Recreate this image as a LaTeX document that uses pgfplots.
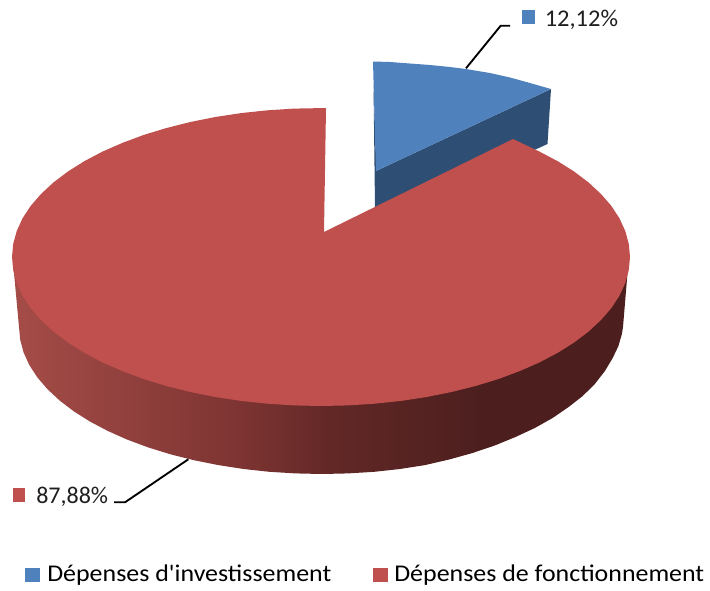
\documentclass[border=0pt]{standalone}
\usepackage{fontspec}
\setmainfont{Carlito}[Ligatures=TeXOff]
\usepackage{pgfplots}
\pgfplotsset{compat=1.18}
\definecolor{pieblue}{RGB}{79,129,189}
\definecolor{piebluedark}{RGB}{46,78,115}
\definecolor{piered}{RGB}{192,80,77}
\definecolor{labeltxt}{RGB}{30,30,30}
\pgfdeclarehorizontalshading{sidered}{100bp}{rgb(0bp)=(.647,.298,.282); rgb(25bp)=(.647,.298,.282); rgb(43.5bp)=(.49,.204,.196); rgb(50.8bp)=(.384,.157,.149); rgb(63bp)=(.298,.122,.118); rgb(100bp)=(.298,.122,.118)}
\begin{document}
\begin{tikzpicture}
\path (0,0) rectangle (532.5pt,442.5pt);
\begin{axis}[at={(0,0)},anchor=south west,scale only axis,width=532.5pt,height=442.5pt,
  xmin=0,xmax=710,ymin=0,ymax=590,y dir=reverse,hide axis,clip=false]
% blue slice side
\addplot[draw=none,fill=piebluedark,forget plot] coordinates {(376,171)(551,89)(547.5,144)(530,152)(376,215)} -- cycle;
\addplot[draw=none,fill=piebluedark,forget plot] coordinates {(373.5,85)(376.5,171)(376.5,207)(375,207)} -- cycle;
% blue slice top
\addplot[draw=none,fill=pieblue,forget plot] coordinates {(373,61.5)(390,62)(410,63.5)(430,65)(450,67)(466,69)(490,73)(510,77.5)(530,83)(551,89)(376,171)} -- cycle;
% red slice side
\addplot[draw=none,shade,shading=sidered,forget plot] coordinates {
(13,262)(19.0,327)(20.2,339.8)(23.6,352.5)(29.3,365.0)(37.3,377.3)(47.4,389.1)(59.6,400.5)(73.8,411.3)(89.9,421.5)(107.7,430.9)(127.2,439.6)(148.2,447.4)(170.5,454.3)(194.0,460.2)(218.4,465.1)(243.6,469.0)(269.4,471.8)(295.6,473.4)(322,474)
(348.2,473.4)(374.3,471.8)(399.9,469.0)(424.9,465.1)(449.2,459.5)(472.5,453)(494.7,445.5)(515.5,437)(534.8,428)(552.6,418)(568.6,407)(582.7,396)(594.8,384)(604.9,371)(612.7,358)(618.4,346)(621.9,334)(623,327)(628,267)
} -- cycle;
% red slice top
\addplot[draw=none,fill=piered,forget plot] coordinates {
(326,108)(294.1,108.6)(267.4,110.3)(241.0,113.1)(215.3,117.0)(190.4,122.0)(166.5,128.0)(143.8,134.9)(122.4,142.9)(102.5,151.6)(84.3,161.2)(67.9,171.5)(53.4,182.5)(41.0,194.0)(30.6,206.0)(22.5,218.4)(16.7,231.1)(13.2,244.0)
(12,257)(13.2,270.0)(16.7,282.9)(22.5,295.6)(30.6,308.0)(41.0,320.0)(53.4,331.5)(67.9,342.5)(84.3,352.8)(102.5,362.4)(122.4,371.1)(143.8,379.1)(166.5,386.0)(190.4,392.0)(215.3,397.0)(241.0,400.9)(267.4,403.7)(294.1,405.4)(321,406)
(347.9,405.4)(374.6,403.7)(401.0,400.9)(426.7,397.0)(451.6,392.0)(475.5,386.0)(498.2,379.1)(519.6,371.1)(539.5,362.4)(557.7,352.8)(574.1,342.5)(588.6,331.5)(601.0,320.0)(611.4,308.0)(619.5,295.6)(625.3,282.9)(628.8,270.0)
(630,257)(628.8,244.0)(625.3,231.1)(619.5,218.4)(611.4,206.0)(601.0,194.0)(588.6,182.5)(574.1,171.5)(557.7,161.2)(539.5,151.6)(513,139)(324,232)
} -- cycle;
% leader lines
\addplot[black,line width=1.4pt,forget plot] coordinates {(466,68.3)(500.7,25.7)(510,25.7)};
\addplot[black,line width=1.4pt,forget plot] coordinates {(188.3,459.3)(125,502.3)(114,502.3)};
% label and legend squares
\addplot[draw=none,fill=pieblue,forget plot] coordinates {(521.7,10.3)(535,10.3)(535,24)(521.7,24)} -- cycle;
\addplot[draw=none,fill=piered,forget plot] coordinates {(12.7,488.3)(25,488.3)(25,501.7)(12.7,501.7)} -- cycle;
\addplot[draw=none,fill=pieblue,forget plot] coordinates {(25,567.7)(39.5,567.7)(39.5,582)(25,582)} -- cycle;
\addplot[draw=none,fill=piered,forget plot] coordinates {(373,567.7)(388,567.7)(388,582)(373,582)} -- cycle;
% texts
\node[anchor=base west,inner sep=0pt,xscale=1.02,text=labeltxt,font=\fontsize{18}{20}\selectfont] at (axis cs:544.5,26) {12,12\%};
\node[anchor=base west,inner sep=0pt,xscale=1.0,text=labeltxt,font=\fontsize{18}{20}\selectfont] at (axis cs:36,503) {87,88\%};
\node[anchor=base west,inner sep=0pt,xscale=1.08,text=black,font=\fontsize{18}{20}\selectfont] at (axis cs:47,581) {Dépenses d'investissement};
\node[anchor=base west,inner sep=0pt,xscale=1.08,text=black,font=\fontsize{18}{20}\selectfont] at (axis cs:394,581) {Dépenses de fonctionnement};
\end{axis}
\end{tikzpicture}
\end{document}
